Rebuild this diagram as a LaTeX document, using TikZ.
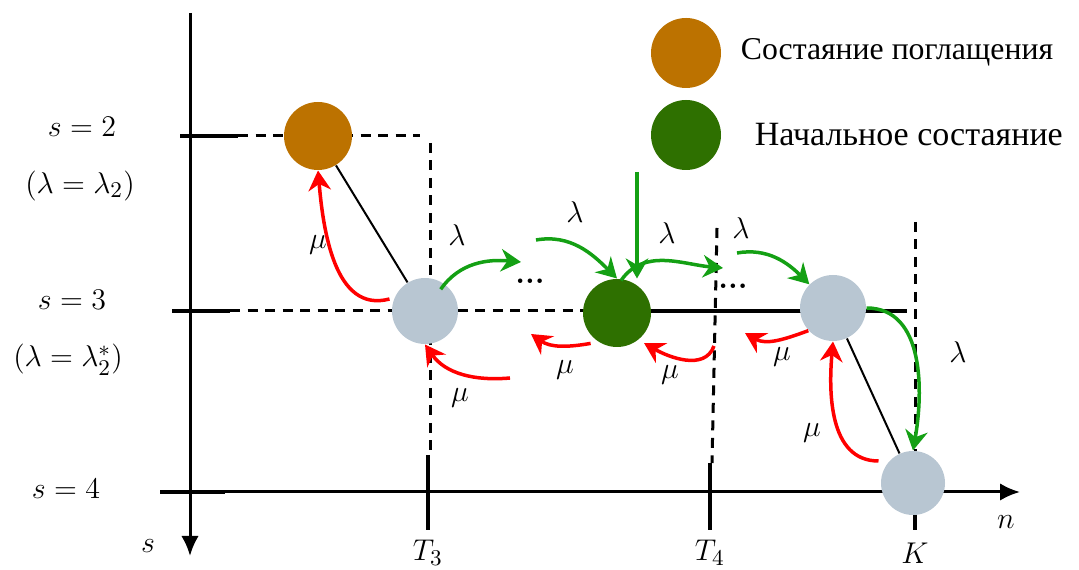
\documentclass[tikz,border=0pt]{standalone}
\usepackage{amsmath,amssymb}
\usepackage{fontspec}
\newfontfamily\rufont{Liberation Serif}
\usetikzlibrary{arrows.meta}
\definecolor{absorbc}{RGB}{188,114,0}
\definecolor{initc}{RGB}{46,112,0}
\definecolor{statec}{RGB}{184,198,210}
\definecolor{lamc}{RGB}{20,160,20}
\definecolor{muc}{RGB}{255,0,0}

\begin{document}
\begin{tikzpicture}[
  x=0.4pt, y=-0.4pt,
  font=\fontsize{12.5}{15}\selectfont,
  state/.style={circle, inner sep=0pt, minimum size=26.4pt},
  ax/.style={line width=1.2pt, -{Latex[length=8pt,width=7pt]}},
  tick/.style={line width=1.8pt},
  grid/.style={line width=1.2pt, dash pattern=on 4pt off 3pt},
  link/.style={line width=0.8pt},
  lam/.style={lamc, line width=1.4pt, -{Stealth[length=8pt,width=9pt]}},
  mu/.style={muc, line width=1.4pt, -{Stealth[length=8pt,width=9pt]}}
]
\useasboundingbox (0,0) rectangle (1079,570);

% axes
\coordinate (stop) at (190,13);
\coordinate (sbot) at (190,556);
\coordinate (nleft) at (160,492);
\coordinate (nright) at (1020,492);
\draw[ax] (stop) -- (sbot);
\draw[ax] (nleft) -- (nright);
\node (slab) at (148,546) {$s$};
\node (nlab) at (1006,522) {$n$};

% levels
\node (s2) at (82,127) {$s=2$};
\node (s2l) at (80,186) {$(\lambda=\lambda_2)$};
\node (s3) at (72,300) {$s=3$};
\node (s3l) at (68,360) {$(\lambda=\lambda_2^{*})$};
\node (s4) at (66,489) {$s=4$};
\draw[tick] (180,136) -- (238,136);
\draw[tick] (172,311) -- (230,311);
\draw[tick] (160,492) -- (225,492);

% guide lines
\draw[grid] (238,136) -- (420,136);
\draw[grid] (430,143) -- (430,455);
\draw[grid] (230,311) -- (590,311);
\draw[line width=1.3pt] (640,311) -- (907,311);
\draw[grid] (717,228) -- (712,463);
\draw[grid] (915,222) -- (915,455);
\draw[tick] (428,455) -- (428,530);
\draw[tick] (710,463) -- (710,530);
\draw[tick] (915,515) -- (915,530);
\node (t3) at (428,553) {$T_3$};
\node (t4) at (710,553) {$T_4$};
\node (kk) at (915,553) {$K$};

% states
\node[state, fill=absorbc, minimum size=27.2pt] (a2) at (318,136) {};
\node[state, fill=statec] (c1) at (425,311) {};
\node[state, fill=initc, minimum size=27.2pt] (c2) at (617,313) {};
\node[state, fill=statec] (c3) at (833,308) {};
\node[state, fill=statec, minimum size=25.6pt] (c4) at (913,483) {};
\draw[link] (a2) -- (c1);
\draw[link] (c3) -- (c4);
\node (d1) at (530,281) {\textbf{...}};
\node (d2) at (733,286) {\textbf{...}};

% legend
\node[state, fill=absorbc, minimum size=28pt] (leg1) at (686,53) {};
\node[state, fill=initc, minimum size=28pt] (leg2) at (686,135) {};
\node[anchor=west, font=\rufont\fontsize{12.7}{15}\selectfont] (leg1t) at (732,52) {Состаяние поглащения};
\node[anchor=west, font=\rufont\fontsize{13.6}{15}\selectfont] (leg2t) at (746,135) {Начальное состаяние};

% lambda transitions
\coordinate (g1e) at (521,262);
\coordinate (g2s) at (536,240);
\coordinate (g3e) at (723,268);
\coordinate (g4s) at (737,253);
\coordinate (gin) at (637,172);
\draw[lam] (c1.north east) ++(-8,2) to[out=55,in=175] (g1e);
\draw[lam] (g2s) to[out=10,in=135] (c2.north);
\draw[lam] (gin) -- (gin |- c2.north);
\draw[lam] (c2.north) ++(4,2) to[out=55,in=175] (g3e);
\draw[lam] (g4s) to[out=10,in=135] (c3.north west);
\draw[lam] (c3.east) to[out=0,in=80] (c4.north);
\node (l1) at (457,235) {$\lambda$};
\node (l2) at (575,212) {$\lambda$};
\node (l3) at (667,233) {$\lambda$};
\node (l4) at (741,228) {$\lambda$};
\node (l5) at (958,352) {$\lambda$};

% mu transitions
\coordinate (r2s) at (510,378);
\coordinate (r3e) at (531,334);
\coordinate (r4s) at (714,346);
\coordinate (r4e) at (644,343);
\coordinate (r5e) at (745,333);
\draw[mu] (c1.west) ++(-2,-12) to[out=195,in=-85] (a2.south);
\draw[mu] (r2s) to[out=185,in=-55] (c1.south);
\draw[mu] (c2.south west) ++(-2,6) to[out=190,in=-35] (r3e);
\draw[mu] (r4s) to[out=-110,in=-30] (r4e);
\draw[mu] (c3.south west) ++(-1,-1) to[out=200,in=-30] (r5e);
\draw[mu] (c4.west) ++(-2,-22) to[out=180,in=-95] (c3.south);
\node (m1) at (318,245) {$\mu$};
\node (m2) at (460,398) {$\mu$};
\node (m3) at (565,370) {$\mu$};
\node (m4) at (670,375) {$\mu$};
\node (m5) at (782,357) {$\mu$};
\node (m6) at (812,433) {$\mu$};
\end{tikzpicture}
\end{document}
